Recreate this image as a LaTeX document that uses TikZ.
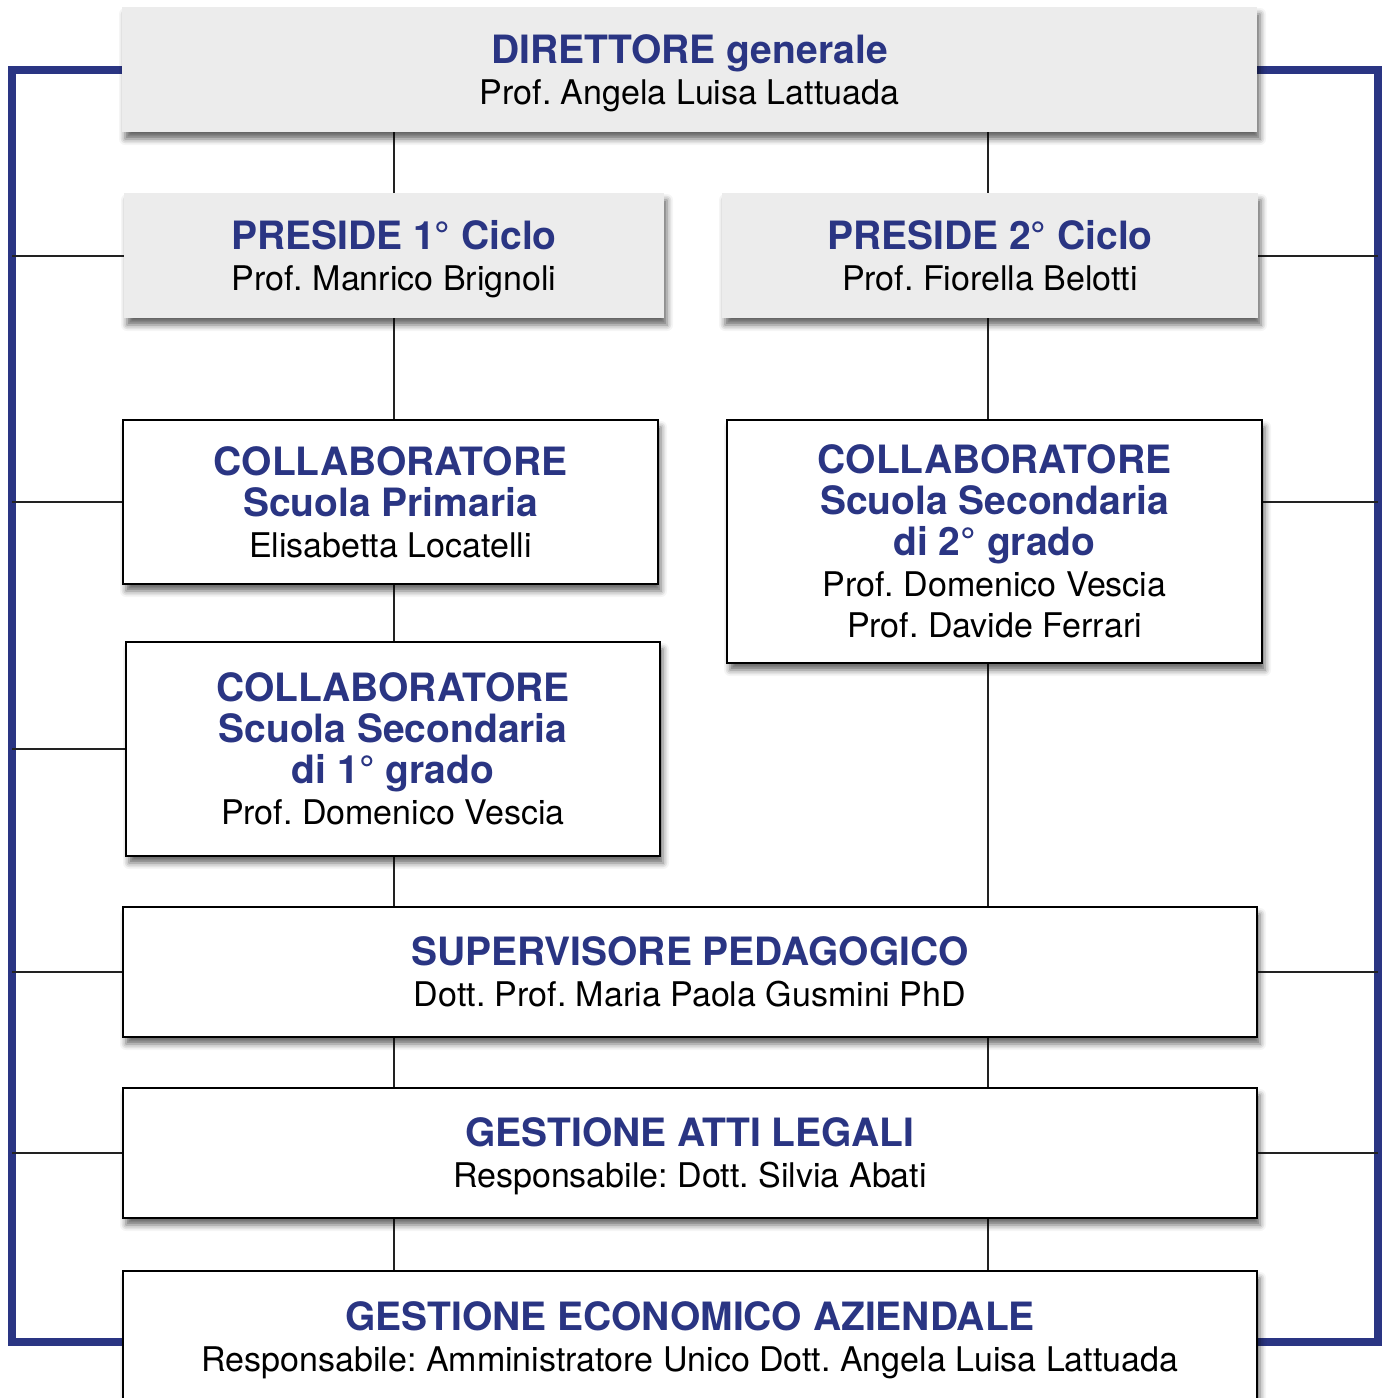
\documentclass[tikz,border=0pt]{standalone}
\usepackage{fontspec}
\setmainfont{TeX Gyre Heros}
\usepackage{tikz}
\usetikzlibrary{positioning,shadows.blur,backgrounds,calc}
\definecolor{orgblue}{RGB}{42,53,131}
\definecolor{headgray}{RGB}{236,236,236}
\definecolor{linkgray}{RGB}{34,34,34}
\frenchspacing
\newcommand{\hd}[1]{{\bfseries\fontsize{19.5}{20.5}\selectfont\color{orgblue}#1}}
\tikzset{
  unit/.style 2 args={minimum width=#1*0.5pt,minimum height=#2*0.5pt},
  headbox/.style={rectangle,fill=headgray,inner sep=0pt,align=center,text depth=0pt,
    font=\fontsize{17}{20.5}\selectfont,
    blur shadow={shadow xshift=1.5pt,shadow yshift=-3.5pt,shadow blur radius=3pt,shadow opacity=60}},
  orgbox/.style={rectangle,draw=black,line width=1pt,fill=white,inner sep=0pt,align=center,text depth=0pt,
    font=\fontsize{17}{20.5}\selectfont,
    blur shadow={shadow xshift=1.5pt,shadow yshift=-3.5pt,shadow blur radius=3pt,shadow opacity=60}},
  link/.style={draw=linkgray,line width=1pt},
  frame/.style={draw=orgblue,line width=4pt}
}

\begin{document}
\begin{tikzpicture}[x=0.5pt,y=-0.5pt]
  \useasboundingbox (0,0) rectangle (1389,1398);
  \clip (0,0) rectangle (1389,1398);
  % boxes
  \node[headbox,unit={1135}{125}] (dir) at (689.5,69.5) {\hd{DIRETTORE generale}\\Prof. Angela Luisa Lattuada};
  \node[headbox,unit={540}{125}] (pre1) at (394,255.5) {\hd{PRESIDE 1° Ciclo}\\Prof. Manrico Brignoli};
  \node[headbox,unit={536}{125}] (pre2) at (990,255.5) {\hd{PRESIDE 2° Ciclo}\\Prof. Fiorella Belotti};
  \node[orgbox,unit={535}{164}] (prim) at (390.5,502) {\hd{COLLABORATORE}\\\hd{Scuola Primaria}\\Elisabetta Locatelli};
  \node[orgbox,unit={535}{243}] (sec2) at (994.5,541.5) {\hd{COLLABORATORE}\\\hd{Scuola Secondaria}\\\hd{di 2° grado}\\Prof. Domenico Vescia\\Prof. Davide Ferrari};
  \node[orgbox,unit={534}{214}] (sec1) at (393,749) {\hd{COLLABORATORE}\\\hd{Scuola Secondaria}\\\hd{di 1° grado}\\Prof. Domenico Vescia};
  \node[orgbox,unit={1134}{130}] (sup) at (690,972) {\hd{SUPERVISORE PEDAGOGICO}\\Dott. Prof. Maria Paola Gusmini PhD};
  \node[orgbox,unit={1134}{130}] (leg) at (690,1153) {\hd{GESTIONE ATTI LEGALI}\\Responsabile: Dott. Silvia Abati};
  \node[orgbox,unit={1134}{132}] (eco) at (690,1337) {\hd{GESTIONE ECONOMICO AZIENDALE}\\Responsabile: Amministratore Unico Dott. Angela Luisa Lattuada};
  % outer frame corners
  \coordinate (tl) at (12,69.5);
  \coordinate (bl) at (12,1342);
  \coordinate (tr) at (1378,69.5);
  \coordinate (br) at (1378,1342);
  \begin{scope}[on background layer]
    \draw[frame] (dir.west) -- (tl) -- (bl) -- (eco.west |- bl);
    \draw[frame] (dir.east) -- (tr) -- (br) -- (eco.east |- br);
    % left column
    \draw[link] (dir.south -| pre1) -- (pre1.north);
    \draw[link] (pre1.south) -- (prim.north -| pre1);
    \draw[link] (prim.south -| pre1) -- (sec1.north -| pre1);
    \draw[link] (sec1.south -| pre1) -- (sup.north -| pre1);
    \draw[link] (sup.south -| pre1) -- (leg.north -| pre1);
    \draw[link] (leg.south -| pre1) -- (eco.north -| pre1);
    % right column
    \draw[link] ([xshift=-1pt]dir.south -| pre2) -- ([xshift=-1pt]pre2.north);
    \draw[link] ([xshift=-1pt]pre2.south) -- ([xshift=-1pt]sec2.north -| pre2);
    \draw[link] ([xshift=-1pt]sec2.south -| pre2) -- ([xshift=-1pt]sup.north -| pre2);
    \draw[link] ([xshift=-1pt]sup.south -| pre2) -- ([xshift=-1pt]leg.north -| pre2);
    \draw[link] ([xshift=-1pt]leg.south -| pre2) -- ([xshift=-1pt]eco.north -| pre2);
    % side links
    \draw[link] (tl |- pre1) -- (pre1.west);
    \draw[link] (tl |- prim) -- (prim.west);
    \draw[link] (tl |- sec1) -- (sec1.west);
    \draw[link] (tl |- sup) -- (sup.west);
    \draw[link] (tl |- leg) -- (leg.west);
    \draw[link] (pre2.east) -- (tr |- pre2);
    \draw[link] (sec2.east |- prim) -- (tr |- prim);
    \draw[link] (sup.east) -- (tr |- sup);
    \draw[link] (leg.east) -- (tr |- leg);
  \end{scope}
\end{tikzpicture}
\end{document}
